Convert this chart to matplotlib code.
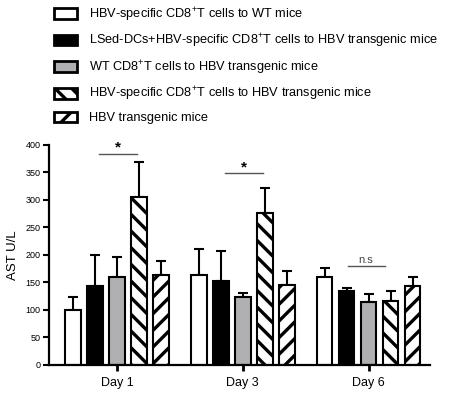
import numpy as np
import matplotlib
matplotlib.use("Agg")
import matplotlib.pyplot as plt
from matplotlib.patches import Patch

plt.rcParams['font.family'] = ['Liberation Sans', 'DejaVu Sans']
plt.rcParams['mathtext.fontset'] = 'custom'
plt.rcParams['mathtext.rm'] = 'Liberation Sans'
plt.rcParams['hatch.linewidth'] = 2.4

# dados
days = ['Day 1', 'Day 3', 'Day 6']
groups = ['HBV-specific CD8$^{+}$T cells to WT mice',
          'LSed-DCs+HBV-specific CD8$^{+}$T cells to HBV transgenic mice',
          'WT CD8$^{+}$T cells to HBV transgenic mice',
          'HBV-specific CD8$^{+}$T cells to HBV transgenic mice',
          'HBV transgenic mice']
wt_mice = [99, 163, 160]
lsed_dcs = [144, 153, 134]
wt_cd8 = [159, 123, 114]
hbv_cd8 = [305, 277, 117]
hbv_tg = [163, 145, 143]
wt_mice_err = [24, 47, 17]
lsed_dcs_err = [56, 54, 6]
wt_cd8_err = [38, 8, 14]
hbv_cd8_err = [64, 45, 17]
hbv_tg_err = [26, 26, 16]

means = [wt_mice, lsed_dcs, wt_cd8, hbv_cd8, hbv_tg]
errs = [wt_mice_err, lsed_dcs_err, wt_cd8_err, hbv_cd8_err, hbv_tg_err]
faces = ['white', 'black', '#b0b0b2', 'white', 'white']
hatches = [None, None, None, '\\\\', '//']

fig = plt.figure(figsize=(4.5, 3.97), dpi=100)
ax = fig.add_axes([0.109, 0.081, 0.847, 0.554])

x = np.arange(len(days))
step = 0.175
width = 0.125
for i in range(5):
    pos = x + (i - 2) * step
    ax.errorbar(pos, means[i], yerr=[np.zeros(3), errs[i]], fmt='none',
                ecolor='black', elinewidth=1.5, capsize=3.6, capthick=1.5, zorder=1)
    ax.bar(pos, means[i], width, color=faces[i], edgecolor='black',
           linewidth=1.5, hatch=hatches[i], zorder=2)

# marcas de significancia
sig = [(0, -0.145, 0.16, 384, '*'), (1, -0.143, 0.16, 348, '*'), (2, -0.167, 0.127, 179, 'n.s')]
for d, a, b, yv, txt in sig:
    ax.plot([d + a, d + b], [yv, yv], color='#555555', lw=1.0, zorder=3)
    if txt == '*':
        ax.text(d + (a + b) / 2, yv - 2, txt, ha='center', va='bottom', fontsize=11, fontweight='bold')
    else:
        ax.text(d + (a + b) / 2, yv + 2, txt, ha='center', va='bottom', fontsize=8, color='#444444')

ax.set_xlim(-0.54, 2.49)
ax.set_ylim(0, 400)
ax.set_yticks(np.arange(0, 401, 50))
ax.set_xticks(x)
ax.set_xticklabels(days, fontsize=9)
ax.tick_params(axis='y', labelsize=6.5, width=1.5, length=4, pad=2)
ax.tick_params(axis='x', width=2, length=4, pad=5)
ax.set_ylabel('AST U/L', fontsize=9.5, labelpad=5)
for s in ['top', 'right']:
    ax.spines[s].set_visible(False)
for s in ['left', 'bottom']:
    ax.spines[s].set_linewidth(1.6)

handles = [Patch(facecolor=faces[i], edgecolor='black', linewidth=2, hatch=hatches[i]) for i in range(5)]
fig.legend(handles, groups, loc='upper left', bbox_to_anchor=(0.105, 1.002),
           frameon=False, fontsize=9.2, handlelength=1.85, handleheight=0.9,
           handletextpad=0.9, labelspacing=0.66, borderpad=0.0)

fig.savefig('out.png', dpi=100)
